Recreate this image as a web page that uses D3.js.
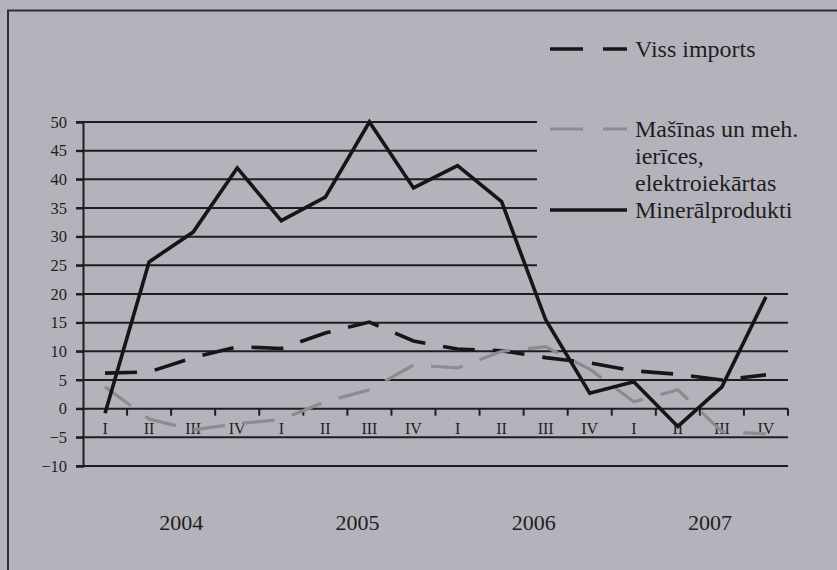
<!DOCTYPE html>
<html>
<head>
<meta charset="utf-8">
<script src="https://cdn.jsdelivr.net/npm/d3@7/dist/d3.min.js"></script>
<style>
  html, body { margin: 0; padding: 0; background: #b4b3bc; }
  svg { display: block; }
</style>
</head>
<body>
<svg id="chart" width="837" height="570"></svg>
<script>
// Quarterly import growth, % change
const quarters = ["I", "II", "III", "IV", "I", "II", "III", "IV", "I", "II", "III", "IV", "I", "II", "III", "IV"];
const years = ["2004", "2005", "2006", "2007"];
const yTicks = [-10, -5, 0, 5, 10, 15, 20, 25, 30, 35, 40, 45, 50];

const vissImports = [6.2, 6.4, 8.9, 10.8, 10.5, 13.2, 15.1, 11.8, 10.4, 10.1, 8.9, 8.0, 6.6, 6.0, 5.0, 5.9];
const masinas = [3.8, -1.8, -3.7, -2.6, -1.9, 1.2, 3.3, 7.6, 7.1, 10.0, 10.8, 6.9, 1.2, 3.3, -4.0, -4.4];
const mineral = [-0.8, 25.6, 30.8, 42.0, 32.8, 36.9, 50.0, 38.5, 42.4, 36.1, 15.5, 2.7, 4.7, -3.1, 3.8, 19.5];

const seriesNames = ["Viss imports", "Mašīnas un meh.|ierīces,|elektroiekārtas", "Minerālprodukti"];

const serif = "'Liberation Serif', 'DejaVu Serif', 'Times New Roman', serif";
const svg = d3.select("#chart");
const bg = "#b4b3bc";
const ink = "#1e1e22";

// outer frame
svg.append("path")
  .attr("d", "M8,575 V10.5 H845")
  .attr("fill", "none").attr("stroke", "#2e2e34").attr("stroke-width", 2);

const x = d3.scaleBand().domain(d3.range(quarters.length)).range([83, 788]).padding(0);
const y = d3.scaleLinear().domain([-10, 50]).range([466, 122]);
const cx = i => x(i) + x.bandwidth() / 2;

// horizontal grid lines
svg.append("g").selectAll("line")
  .data(yTicks.filter(v => v !== 0))
  .join("line")
  .attr("x1", 76).attr("x2", 788)
  .attr("y1", d => y(d)).attr("y2", d => y(d))
  .attr("stroke", ink).attr("stroke-width", 2);

// legend panel covering the upper right of the plot
svg.append("rect")
  .attr("x", 537).attr("y", 13).attr("width", 310).attr("height", 267)
  .attr("fill", bg);

// y axis
const yAxis = svg.append("g")
  .attr("transform", "translate(83,0)")
  .call(d3.axisLeft(y).tickValues(yTicks).tickSize(7).tickPadding(9).tickFormat(d3.format("d")));
yAxis.attr("font-family", null);
yAxis.select(".domain").attr("stroke", ink).attr("stroke-width", 2);
yAxis.selectAll(".tick line").attr("stroke", ink).attr("stroke-width", 2);
yAxis.selectAll(".tick text")
  .style("font-family", serif).style("font-size", "16.5px").attr("fill", ink);

// x axis at zero with ticks between quarters
const y0 = y(0);
const xAxis = svg.append("g")
  .attr("transform", `translate(0,${y0})`)
  .call(d3.axisBottom(x).tickSize(0).tickPadding(14).tickFormat(i => quarters[i]));
xAxis.attr("font-family", null);
xAxis.select(".domain").remove();
xAxis.selectAll(".tick text")
  .style("font-family", serif).style("font-size", "16px").attr("fill", ink);
svg.append("line")
  .attr("x1", 76).attr("x2", 788).attr("y1", y0).attr("y2", y0)
  .attr("stroke", ink).attr("stroke-width", 2);
svg.append("g").selectAll("line")
  .data(d3.range(1, quarters.length + 1))
  .join("line")
  .attr("x1", i => i < quarters.length ? x(i) : x.range()[1])
  .attr("x2", i => i < quarters.length ? x(i) : x.range()[1])
  .attr("y1", y0).attr("y2", y0 + 7)
  .attr("stroke", ink).attr("stroke-width", 2);

// year labels
svg.append("g").selectAll("text")
  .data(years)
  .join("text")
  .attr("x", (d, k) => (cx(k * 4) + cx(k * 4 + 3)) / 2 + 10)
  .attr("y", 530)
  .attr("text-anchor", "middle")
  .style("font-family", serif).style("font-size", "22px")
  .attr("fill", ink)
  .text(d => d);

// series lines
const line = d3.line().x((d, i) => cx(i)).y(d => y(d));
const styles = [
  { data: vissImports, color: "#161618", width: 3.6, dash: "32,18" },
  { data: masinas, color: "#8b8b90", width: 3.2, dash: "32,18" },
  { data: mineral, color: "#161618", width: 3.6, dash: null }
];
styles.forEach(s => {
  svg.append("path")
    .datum(s.data)
    .attr("d", line)
    .attr("fill", "none")
    .attr("stroke", s.color)
    .attr("stroke-width", s.width)
    .attr("stroke-dasharray", s.dash)
    .attr("stroke-linejoin", "miter");
});

// legend
const legendRows = [49, 129, 210];
const lg = svg.append("g");
styles.forEach((s, k) => {
  const ly = legendRows[k];
  lg.append("line")
    .attr("x1", 550).attr("x2", 627).attr("y1", ly).attr("y2", ly)
    .attr("stroke", s.color).attr("stroke-width", s.width)
    .attr("stroke-dasharray", s.dash ? "33,20" : null);
  const parts = seriesNames[k].split("|");
  parts.forEach((p, j) => {
    lg.append("text")
      .attr("x", 635).attr("y", ly + 8 + j * 27)
      .style("font-family", serif).style("font-size", "24px")
      .attr("fill", ink)
      .text(p);
  });
});
</script>
</body>
</html>
